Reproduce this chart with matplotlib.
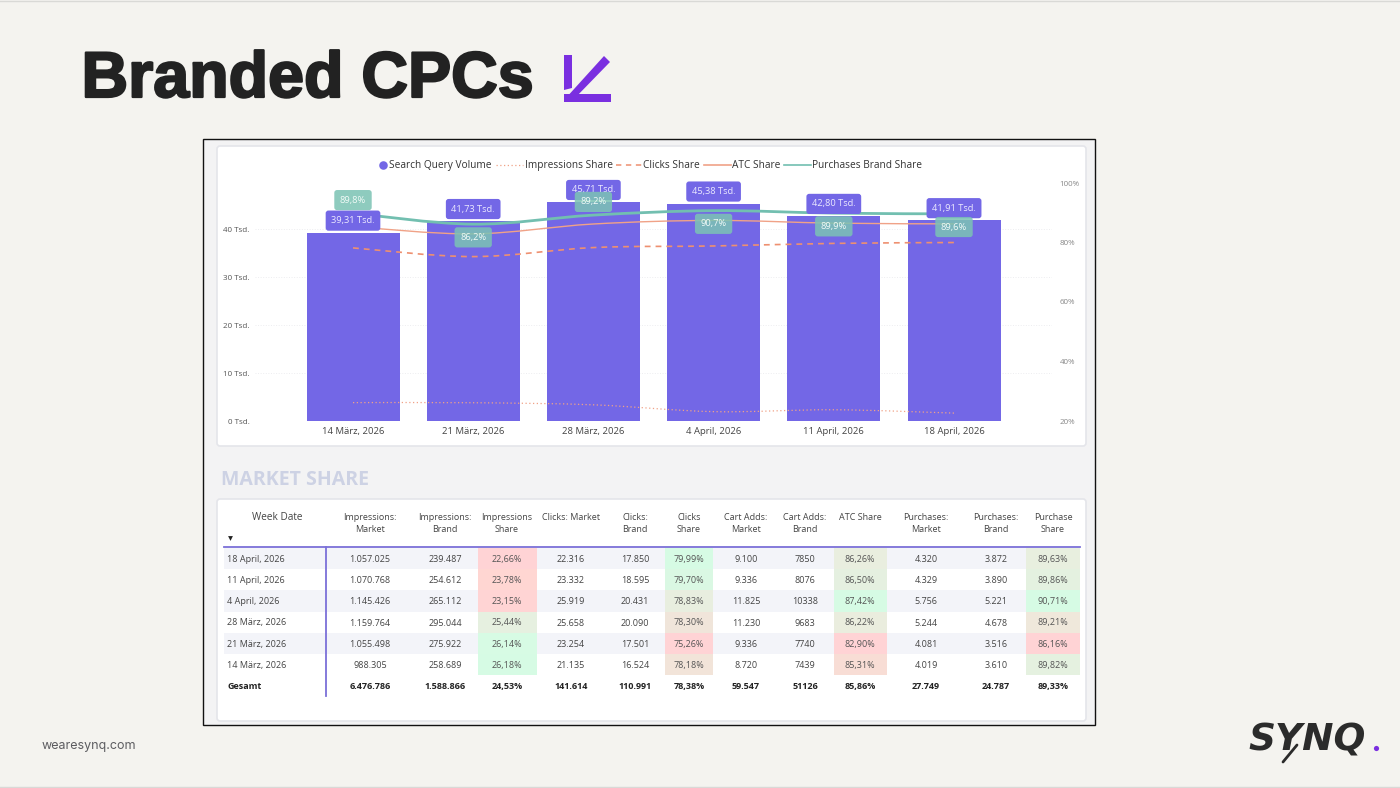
import matplotlib
matplotlib.use("Agg")
import matplotlib.patheffects as pe
import matplotlib.pyplot as plt
import numpy as np
from matplotlib.colors import LinearSegmentedColormap
from matplotlib.lines import Line2D
from matplotlib.patches import FancyBboxPatch, PathPatch, Polygon, Rectangle
from matplotlib.path import Path

# weekly figures, oldest week first
weeks = ["14 März, 2026", "21 März, 2026", "28 März, 2026", "4 April, 2026", "11 April, 2026", "18 April, 2026"]
query_volume = [39.31, 41.73, 45.71, 45.38, 42.80, 41.91]
impressions_share = [26.18, 26.14, 25.44, 23.15, 23.78, 22.66]
clicks_share = [78.18, 75.26, 78.30, 78.83, 79.70, 79.99]
atc_share = [85.31, 82.90, 86.22, 87.42, 86.50, 86.26]
purchase_share = [89.82, 86.16, 89.21, 90.71, 89.86, 89.63]

left_ticks = [0, 10, 20, 30, 40]
right_ticks = [20, 40, 60, 80, 100]

# table columns, newest week first
impr_market = ["1.057.025", "1.070.768", "1.145.426", "1.159.764", "1.055.498", "988.305"]
impr_brand = ["239.487", "254.612", "265.112", "295.044", "275.922", "258.689"]
clicks_market = ["22.316", "23.332", "25.919", "25.658", "23.254", "21.135"]
clicks_brand = ["17.850", "18.595", "20.431", "20.090", "17.501", "16.524"]
cart_market = ["9.100", "9.336", "11.825", "11.230", "9.336", "8.720"]
cart_brand = ["7850", "8076", "10338", "9683", "7740", "7439"]
purch_market = ["4.320", "4.329", "5.756", "5.244", "4.081", "4.019"]
purch_brand = ["3.872", "3.890", "5.221", "4.678", "3.516", "3.610"]
totals = ["6.476.786", "1.588.866", "24,53%", "141.614", "110.991", "78,38%",
          "59.547", "51126", "85,86%", "27.749", "24.787", "89,33%"]
headers = ["Impressions:\nMarket", "Impressions:\nBrand", "Impressions\nShare", "Clicks: Market",
           "Clicks:\nBrand", "Clicks\nShare", "Cart Adds:\nMarket", "Cart Adds:\nBrand", "ATC Share",
           "Purchases:\nMarket", "Purchases:\nBrand", "Purchase\nShare"]

BG = "#F4F3EF"
PANEL = "#F3F3F4"
PURPLE = "#7367E6"
TEAL = "#72BFB0"
SALMON = "#F0A287"
FONT = "Open Sans"

plt.rcParams["font.family"] = [FONT, "DejaVu Sans"]

W, H = 1400, 788
fig = plt.figure(figsize=(14, 7.88), dpi=100, facecolor=BG)

# page layer in pixel units
page = fig.add_axes([0, 0, 1, 1])
page.set_xlim(0, W)
page.set_ylim(H, 0)
page.axis("off")


def card(x0, y0, x1, y1):
    page.add_patch(FancyBboxPatch((x0, y0), x1 - x0, y1 - y0, boxstyle="round,pad=0,rounding_size=3",
                                  fc="white", ec="#E4E5EA", lw=1.2))


def smooth_line(ax, xs, ys, **kw):
    # Catmull-Rom through the weekly values, as bezier segments
    pts = np.column_stack([xs, ys]).astype(float)
    verts = [pts[0]]
    codes = [Path.MOVETO]
    for i in range(len(pts) - 1):
        before = pts[max(i - 1, 0)]
        after = pts[min(i + 2, len(pts) - 1)]
        verts += [pts[i] + (pts[i + 1] - before) / 6, pts[i + 1] - (after - pts[i]) / 6, pts[i + 1]]
        codes += [Path.CURVE4] * 3
    ax.add_patch(PathPatch(Path(verts, codes), fc="none", **kw))


# page frame, heading and footer
page.plot([0, W], [0.5, 0.5], color="#D9D9D6", lw=1)
page.plot([0, W], [787, 787], color="#D9D9D6", lw=1)
page.text(81.5, 97, "Branded CPCs", fontsize=46.5, fontweight="bold", family="Liberation Sans",
          color="#222222", va="baseline",
          path_effects=[pe.withStroke(linewidth=1.6, foreground="#222222")])
page.add_patch(Polygon([(564, 55), (572, 55), (572, 88), (564, 90)], fc="#7A2FE0", ec="none"))
page.add_patch(Polygon([(604, 56), (610, 62), (574, 99), (565, 99)], fc="#7A2FE0", ec="none"))
page.add_patch(Rectangle((564, 94), 47, 8, fc="#7A2FE0", ec="none"))
page.text(42, 745.5, "wearesynq.com", fontsize=9, family="Inter", color="#5C5C60", va="center")
page.text(1248, 750, "SYNQ", fontsize=27, family="DejaVu Sans", fontweight="bold", style="italic",
          color="#2B2B2B", va="baseline")
page.add_line(Line2D([1297, 1283], [745, 762], color="#2B2B2B", lw=2, solid_capstyle="round"))
page.scatter([1376], [748], s=14, color="#7A2FE0", lw=0)

# screenshot panel
page.add_patch(Rectangle((203, 139), 892, 586, fc=PANEL, ec="#111111", lw=1))
card(217, 146, 1086, 446)
card(217, 499, 1086, 721)
page.text(221, 480, "MARKET SHARE", fontsize=14, fontweight="bold", color="#CDD2E4", va="center")

# chart legend
LEG_Y = 165
LEG_SIZE = 7.3
page.scatter([383], [LEG_Y - 0.5], s=38, color=PURPLE, lw=0)
page.text(389, LEG_Y, "Search Query Volume", fontsize=LEG_SIZE, color="#333333", va="center")
page.add_line(Line2D([496, 523], [LEG_Y, LEG_Y], color=SALMON, lw=0.9, ls=(0, (1, 2))))
page.text(525, LEG_Y, "Impressions Share", fontsize=LEG_SIZE, color="#333333", va="center")
page.add_line(Line2D([616, 642], [LEG_Y, LEG_Y], color="#EE9070", lw=1.1, ls=(0, (3.5, 3))))
page.text(643, LEG_Y, "Clicks Share", fontsize=LEG_SIZE, color="#333333", va="center")
page.add_line(Line2D([704, 731], [LEG_Y, LEG_Y], color=SALMON, lw=1.2))
page.text(732, LEG_Y, "ATC Share", fontsize=LEG_SIZE, color="#333333", va="center")
page.add_line(Line2D([784, 811], [LEG_Y, LEG_Y], color=TEAL, lw=1.2))
page.text(812, LEG_Y, "Purchases Brand Share", fontsize=LEG_SIZE, color="#333333", va="center")

# combo chart: axes box runs 255..1052 px wide, 183..421 px high
AX_L, AX_R, AX_T, AX_B = 255, 1052, 183, 421
ax = fig.add_axes([AX_L / W, 1 - AX_B / H, (AX_R - AX_L) / W, (AX_B - AX_T) / H])
ax.patch.set_alpha(0)
STEP = 120.2
x = np.arange(len(weeks))
ax.set_xlim(-(353 - AX_L) / STEP, (AX_R - 353) / STEP)
ax.set_ylim(0, (AX_B - AX_T) / 4.79)
ax.bar(x, query_volume, width=93 / STEP, color=PURPLE, zorder=2)
ax.set_xticks(x, weeks, fontsize=6.8, color="#444444")
ax.set_yticks(left_ticks, [f"{t} Tsd." for t in left_ticks], fontsize=5.8, color="#555555")
ax.tick_params(axis="x", length=0, pad=4)
ax.tick_params(axis="y", length=0, pad=4)
ax.grid(axis="y", color="#EDEDF0", lw=0.7, ls=":")
ax.set_axisbelow(True)
for s in ax.spines.values():
    s.set_visible(False)

ax2 = ax.twinx()
ax2.set_ylim(20, 100)
ax2.set_yticks(right_ticks, [f"{t}%" for t in right_ticks], fontsize=5.8, color="#888888")
ax2.tick_params(axis="y", length=0, pad=5.5)
for s in ax2.spines.values():
    s.set_visible(False)

smooth_line(ax2, x, impressions_share, ec=SALMON, lw=0.9, ls=(0, (1, 2)), zorder=3)
smooth_line(ax2, x, clicks_share, ec="#EE9070", lw=1.2, ls=(0, (3.5, 3)), zorder=3)
smooth_line(ax2, x, atc_share, ec=SALMON, lw=1.0, zorder=3)
smooth_line(ax2, x, purchase_share, ec=TEAL, lw=2.0, zorder=3)

for i, v in enumerate(query_volume):
    ax2.annotate(f"{v:.2f}".replace(".", ",") + " Tsd.", (i, 20 + v * 4.79 / 2.975), xytext=(0, 8.7),
                 textcoords="offset points", ha="center", va="center", fontsize=6.7, color="#ECEAFF",
                 bbox=dict(boxstyle="round,pad=0.6,rounding_size=0.3", fc=PURPLE, ec="none"), zorder=5)

# purchase labels sit above the line in some weeks, below it in the others
label_side = [1, -1, 1, -1, -1, -1]
for i, v in enumerate(purchase_share):
    ax2.annotate(f"{v:.1f}".replace(".", ",") + "%", (i, v), xytext=(0, 9.5 * label_side[i]),
                 textcoords="offset points", ha="center", va="center", fontsize=6.7, color="#F2FBF8",
                 bbox=dict(boxstyle="round,pad=0.6,rounding_size=0.3", fc="#7CC3B4", ec="none", alpha=0.86),
                 zorder=6)

# table
ROW_TOP = 548
ROW_H = 21.2
TBL_L, TBL_R = 224, 1080
col_x = [370, 445, 507, 571, 635, 689, 746, 805, 860, 926, 996, 1053]
week_rows = weeks[::-1]
n_rows = len(week_rows)


def row_y(r):
    return ROW_TOP + ROW_H * (r + 0.5) + 0.8


for r in range(0, n_rows, 2):
    page.add_patch(Rectangle((TBL_L, ROW_TOP + ROW_H * r), TBL_R - TBL_L, ROW_H, fc="#F3F4F9", ec="none"))

# heat cells are scaled per column between its lowest and highest share
heat = LinearSegmentedColormap.from_list(
    "share_heat",
    [(0, "#FFD3D5"), (0.35, "#FFD6D2"), (0.53, "#F8DDD5"), (0.65, "#F0E6DA"), (0.75, "#E9EEDF"), (1, "#D6FBE4")],
)
share_cols = [
    (2, impressions_share[::-1], 478, 537),
    (5, clicks_share[::-1], 665, 713),
    (8, atc_share[::-1], 834, 887),
    (11, purchase_share[::-1], 1026, 1080),
]
plain_cols = [(0, impr_market), (1, impr_brand), (3, clicks_market), (4, clicks_brand),
              (6, cart_market), (7, cart_brand), (9, purch_market), (10, purch_brand)]

for c, vals, x0, x1 in share_cols:
    lo, hi = min(vals), max(vals)
    for r, v in enumerate(vals):
        page.add_patch(Rectangle((x0, ROW_TOP + ROW_H * r), x1 - x0, ROW_H, fc=heat((v - lo) / (hi - lo)), ec="none"))
        page.text(col_x[c], row_y(r), f"{v:.2f}".replace(".", ",") + "%", fontsize=6.5, color="#555555",
                  ha="center", va="center")

for c, vals in plain_cols:
    for r, v in enumerate(vals):
        page.text(col_x[c], row_y(r), v, fontsize=6.5, color="#444444", ha="center", va="center")

for r, w in enumerate(week_rows):
    page.text(227, row_y(r), w, fontsize=6.5, color="#444444", va="center")

page.text(227, row_y(n_rows), "Gesamt", fontsize=6.5, fontweight="bold", color="#222222", va="center")
for c, v in enumerate(totals):
    page.text(col_x[c], row_y(n_rows), v, fontsize=6.5, fontweight="bold", color="#222222", ha="center", va="center")

page.text(277, 518, "Week Date", fontsize=7.2, color="#444444", ha="center", va="center")
for c, h in enumerate(headers):
    page.text(col_x[c], 513, h, fontsize=6.5, color="#444444", ha="center", va="top", linespacing=1.45)
page.scatter([230], [538], marker="v", s=12, color="#222222", lw=0)

page.add_line(Line2D([TBL_L, TBL_R], [547, 547], color="#7B70D8", lw=1.3))
page.add_line(Line2D([326, 326], [547, 696], color="#7B70D8", lw=1.3))

fig.savefig("out.png", dpi=100, facecolor=BG)
plt.close(fig)
